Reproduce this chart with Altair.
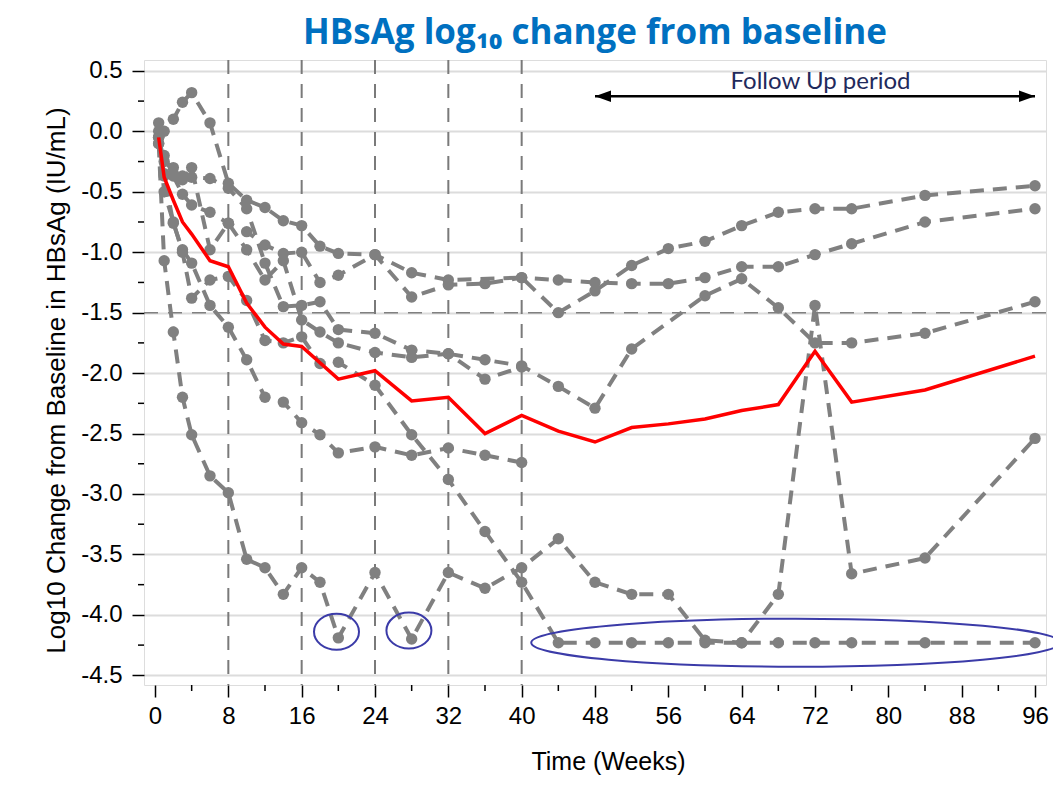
import altair as alt
import pandas as pd

# ---------------- data ----------------
weeks = [0.4, 1, 2, 3, 4, 6, 8, 10, 12, 14, 16, 18, 20, 24, 28, 32, 36, 40,
         44, 48, 52, 56, 60, 64, 68, 72, 76, 84, 96]
N = None
p1 = [0.07, 0.0, 0.10, 0.24, 0.32, 0.07, -0.43, -0.57, -0.63, -0.74, -0.78, -0.95, -1.01, -1.02, -1.17, -1.23, N, -1.21,
      -1.50, -1.32, -1.11, -0.97, -0.91, -0.78, -0.67, -0.64, -0.64, -0.53, -0.45]
p2 = [0.0, -0.20, -0.37, -0.52, -0.61, -0.67, -0.76, -0.83, -0.94, -1.01, -1.00, -1.25, -1.19, -1.02, -1.37, -1.27, -1.26, -1.21,
      -1.23, -1.25, -1.26, -1.26, -1.21, -1.12, -1.12, -1.02, -0.93, -0.75, -0.64]
p3 = [-0.10, -1.07, -1.66, -2.20, -2.51, -2.85, -2.99, -3.54, -3.61, -3.83, -3.61, -3.73, -4.19, -3.65, -4.20, -3.65, -3.78, -3.61,
      -3.37, -3.73, -3.83, -3.83, -4.21, -4.23, -3.83, -1.44, -3.66, -3.53, -2.54]
p4 = [-0.05, -0.25, -0.30, -0.37, -0.38, -0.39, -0.47, -0.64, -1.09, -1.45, -1.44, -1.41, -1.64, -1.67, -1.81, -1.84, -1.89, -1.94,
      -2.11, -2.29, -1.80, N, -1.36, -1.22, -1.46, -1.75, -1.75, -1.67, -1.41]
p5 = [-0.05, -0.50, -0.75, -1.00, -1.38, -1.23, -1.20, -1.40, -1.73, -1.75, -1.70, -1.92, -1.91, -2.10, -2.51, -2.88, -3.31, -3.73,
      -4.23, -4.23, -4.23, -4.23, -4.23, -4.23, -4.23, -4.23, -4.23, -4.23, -4.23]
p6 = [-0.05, -0.37, -0.76, -0.98, -1.09, -1.44, -1.62, -1.89, -2.20, -2.24, -2.41, -2.51, -2.66, -2.61, -2.68, -2.62, -2.68, -2.74,
      N, N, N, N, N, N, N, N, N, N, N]
p7 = [-0.10, -0.35, -0.35, -0.40, -0.30, -0.98, -0.76, -0.98, -1.23, -1.07, -1.56, -1.66, -1.75, -1.83, -1.87, -1.84, -2.05, -1.95,
      N, N, N, N, N, N, N, N, N, N, N]
patients = {"P1": p1, "P2": p2, "P3": p3, "P4": p4, "P5": p5, "P6": p6, "P7": p7}

mean_weeks = [0.4, 1, 2, 3, 4, 6, 8, 10, 12, 14, 16, 20, 24, 28, 32, 36, 40, 44, 48, 52, 56, 60, 64, 68, 72, 76, 84, 96]
mean_vals = [-0.05, -0.38, -0.57, -0.75, -0.85, -1.07, -1.12, -1.42, -1.62, -1.76, -1.78, -2.05, -1.98, -2.23, -2.20, -2.50,
             -2.35, -2.48, -2.57, -2.45, -2.42, -2.38, -2.31, -2.26, -1.82, -2.24, -2.14, -1.86]

x_ticks = [0, 8, 16, 24, 32, 40, 48, 56, 64, 72, 80, 88, 96]
x_minor = [4, 12, 20, 28, 36, 44, 52, 60, 68, 76, 84, 92]
y_ticks = [0.5, 0.0, -0.5, -1.0, -1.5, -2.0, -2.5, -3.0, -3.5, -4.0, -4.5]
y_minor = [0.25, -0.25, -0.75, -1.25, -1.75, -2.25, -2.75, -3.25, -3.75, -4.25]
v_dashed = [8, 16, 24, 32, 40]
h_dashed = [-1.5]

follow_start, follow_end, follow_level = 48, 96, 0.29
follow_label = "Follow Up period"
follow_label_pos = (72.6, 0.41)
small_circles = [(19.8, -4.14), (27.7, -4.13)]
big_ellipse = (69.9, -4.23)

# ---------------- build tables ----------------
rows = []
for pid, vals in patients.items():
    for w, v in zip(weeks, vals):
        if v is not None:
            rows.append({"pid": pid, "week": w, "val": v})
pdf = pd.DataFrame(rows)
mdf = pd.DataFrame({"week": mean_weeks, "val": mean_vals})

W, H = 902, 625
X = alt.Scale(domain=[-1.2, 97.2], nice=False, zero=False)
Y = alt.Scale(domain=[-4.58, 0.59], nice=False, zero=False)
GRAY = "#808080"
FONT = "Liberation Sans"

xaxis = alt.Axis(values=x_ticks, grid=False, domain=False, tickSize=12, tickWidth=1.5, tickColor="black",
                 labelFont=FONT, labelFontSize=24, labelColor="black", labelPadding=7,
                 title="Time (Weeks)", titleFont=FONT, titleFontSize=25, titleFontWeight="normal",
                 titleColor="black", titlePadding=21, titleX=464)
yaxis = alt.Axis(values=y_ticks, grid=True, gridColor="#dcdcdc", gridWidth=2, domain=False,
                 tickSize=12, tickWidth=1.5, tickColor="black",
                 labelFont=FONT, labelFontSize=24, labelColor="black", labelPadding=10,
                 labelExpr="replace(format(datum.value, '.1f'), '\u2212', '-')",
                 title="Log10 Change from Baseline in HBsAg (IU/mL)", titleFont=FONT, titleFontSize=26,
                 titleFontWeight="normal", titleColor="black", titlePadding=11, titleY=320)

base = alt.Chart(pdf)

frame = alt.Chart(mdf).mark_line(opacity=0).encode(
    x=alt.X("week:Q", scale=X, axis=xaxis),
    y=alt.Y("val:Q", scale=Y, axis=yaxis),
)

vlines = alt.Chart(pd.DataFrame({"week": v_dashed})).mark_rule(
    color="#7a7a7a", strokeWidth=2, strokeDash=[14, 10]).encode(x=alt.X("week:Q", scale=X))
hlines = alt.Chart(pd.DataFrame({"val": h_dashed})).mark_rule(
    color="#808080", strokeWidth=1.5, strokeDash=[14, 10]).encode(y=alt.Y("val:Q", scale=Y))

xminor = alt.Chart(pd.DataFrame({"week": x_minor})).mark_rule(color="black", strokeWidth=1.5).encode(
    x=alt.X("week:Q", scale=X), y=alt.value(H), y2=alt.value(H + 6))
yminor = alt.Chart(pd.DataFrame({"val": y_minor})).mark_rule(color="black", strokeWidth=1.5).encode(
    y=alt.Y("val:Q", scale=Y), x=alt.value(-6), x2=alt.value(0))

plines = base.mark_line(color=GRAY, strokeWidth=4, strokeDash=[14, 9]).encode(
    x=alt.X("week:Q", scale=X), y=alt.Y("val:Q", scale=Y), detail="pid:N", order="week:Q")
ppoints = base.mark_circle(color=GRAY, size=130, opacity=1).encode(
    x=alt.X("week:Q", scale=X), y=alt.Y("val:Q", scale=Y))

mline = alt.Chart(mdf).mark_line(color="#ff0000", strokeWidth=3.5).encode(
    x=alt.X("week:Q", scale=X), y=alt.Y("val:Q", scale=Y), order="week:Q")

adf = pd.DataFrame({"w1": [follow_start], "w2": [follow_end], "v": [follow_level]})
arrow = alt.Chart(adf).mark_rule(color="black", strokeWidth=2.5).encode(
    x=alt.X("w1:Q", scale=X), x2="w2:Q", y=alt.Y("v:Q", scale=Y))
left_head = alt.Chart(adf).mark_point(shape="M 0 0 L 1 -0.36 L 1 0.36 Z", size=1024, filled=True,
                                      color="black", opacity=1).encode(
    x=alt.X("w1:Q", scale=X), y=alt.Y("v:Q", scale=Y))
right_head = alt.Chart(adf).mark_point(shape="M 0 0 L -1 -0.36 L -1 0.36 Z", size=1024, filled=True,
                                       color="black", opacity=1).encode(
    x=alt.X("w2:Q", scale=X), y=alt.Y("v:Q", scale=Y))
tdf = pd.DataFrame({"w": [follow_label_pos[0]], "v": [follow_label_pos[1]], "t": [follow_label]})
label = alt.Chart(tdf).mark_text(font="Lato", fontSize=24, color="#1f2a5c").encode(
    x=alt.X("w:Q", scale=X), y=alt.Y("v:Q", scale=Y), text="t:N")

def ellipse_path(ry):
    k = 0.5523
    return (f"M -1 0 C -1 {-k*ry:.4f} {-k:.4f} {-ry:.4f} 0 {-ry:.4f} "
            f"C {k:.4f} {-ry:.4f} 1 {-k*ry:.4f} 1 0 "
            f"C 1 {k*ry:.4f} {k:.4f} {ry:.4f} 0 {ry:.4f} "
            f"C {-k:.4f} {ry:.4f} -1 {k*ry:.4f} -1 0 Z")

cdf = pd.DataFrame({"w": [c[0] for c in small_circles], "v": [c[1] for c in small_circles]})
circles = alt.Chart(cdf).mark_point(shape=ellipse_path(0.8), size=45 * 45, filled=False,
                                    color="#3b3ba8", strokeWidth=2, opacity=1).encode(
    x=alt.X("w:Q", scale=X), y=alt.Y("v:Q", scale=Y))
edf = pd.DataFrame({"w": [big_ellipse[0]], "v": [big_ellipse[1]]})
ellipse = alt.Chart(edf).mark_point(shape=ellipse_path(48 / 529), size=529 * 529, filled=False,
                                    color="#3b3ba8", strokeWidth=2, opacity=1).encode(
    x=alt.X("w:Q", scale=X), y=alt.Y("v:Q", scale=Y))

chart = alt.layer(
    frame, vlines, hlines, xminor, yminor, plines, ppoints, mline,
    arrow, left_head, right_head, label, circles, ellipse
).properties(
    width=W, height=H,
    title=alt.TitleParams("HBsAg log\u2081\u2080 change from baseline", font="Open Sans", fontSize=35,
                          fontWeight="bold", color="#0070c0", anchor="middle", offset=8),
    autosize=alt.AutoSizeParams(type="none"),
    padding={"left": 136, "top": 52, "right": 7, "bottom": 95},
).configure_view(stroke="black", strokeWidth=2).configure(background="white")

chart.save("out.html", embed_options={"renderer": "svg", "actions": False})
